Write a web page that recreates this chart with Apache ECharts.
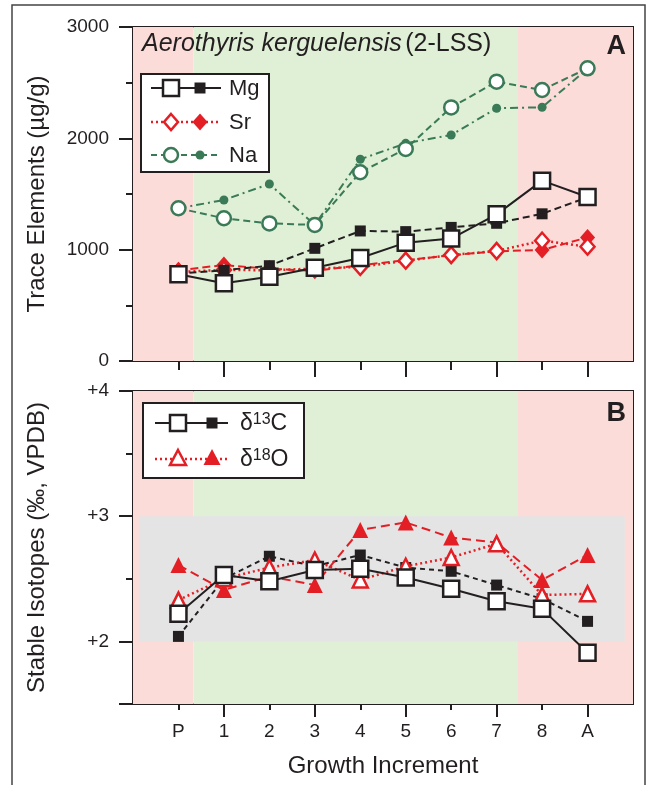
<!DOCTYPE html>
<html>

<head>
    <meta charset="utf-8">
    <script src="https://cdn.jsdelivr.net/npm/echarts@6.0.0/dist/echarts.min.js"></script>
    <style>
        html, body { margin: 0; padding: 0; background: #fff; }
    </style>
</head>

<body>
    <div id="main" style="width: 649px;height:785px;"></div>
    <script type="text/javascript">
        // growth increments (P = protegulum side, A = anterior margin)
        var increments = ['P', '1', '2', '3', '4', '5', '6', '7', '8', 'A'];

        // panel A, trace elements in µg/g (open = one profile, filled = the other)
        var mgOpen = [779, 698, 757, 838, 925, 1063, 1100, 1317, 1620, 1473];
        var mgFilled = [785, 815, 856, 1012, 1168, 1162, 1200, 1237, 1322, 1470];
        var srOpen = [800, 818, 815, 830, 845, 901, 952, 988, 1081, 1027];
        var srFilled = [815, 862, 828, 810, 860, 905, 950, 985, 997, 1110];
        var naOpen = [1372, 1282, 1236, 1222, 1695, 1905, 2278, 2509, 2434, 2629];
        var naFilled = [1372, 1446, 1590, 1222, 1812, 1955, 2030, 2270, 2279, 2625];

        // panel B, stable isotopes in ‰ VPDB
        var c13Open = [2.22, 2.53, 2.48, 2.57, 2.58, 2.51, 2.42, 2.32, 2.26, 1.91];
        var c13Filled = [2.04, 2.50, 2.68, 2.60, 2.69, 2.59, 2.56, 2.45, 2.34, 2.16];
        var o18Open = [2.33, 2.50, 2.59, 2.65, 2.49, 2.60, 2.67, 2.78, 2.37, 2.38];
        var o18Filled = [2.61, 2.41, 2.52, 2.45, 2.89, 2.95, 2.83, 2.79, 2.49, 2.69];

        // growth phases along the x axis (increment index) and the grey band
        var phaseBounds = [-1, 0.33, 7.47, 10];
        var bandX = [-0.87, 9.82];
        var bandY = [2, 3];

        var isoLabels = [2, 3, 4];

        var BLACK = '#231f20', RED = '#e31e24', GREEN = '#3b7a57';
        var PINK = '#fbdcd9', LGREEN = '#dff0d6', GREY = '#e4e4e4';
        var FONT = 'Liberation Sans, Arial, Helvetica, sans-serif';

        var chart = echarts.init(document.getElementById('main'));

        function pts(arr) {
            return arr.map(function (v, i) { return [i, v]; });
        }

        function line(name, arr, grid, symbol, size, open, color, dash, lw, z) {
            return {
                name: name,
                type: 'line',
                xAxisIndex: grid * 2,
                yAxisIndex: grid,
                data: pts(arr),
                symbol: symbol,
                symbolSize: size,
                showAllSymbol: true,
                z: z,
                lineStyle: { color: color, width: lw, type: dash },
                itemStyle: open
                    ? { color: '#fff', borderColor: color, borderWidth: 2.5 }
                    : { color: color, borderColor: color, borderWidth: 0 },
                emphasis: { disabled: true }
            };
        }

        function phaseAreas(yMin, yMax) {
            var cols = [PINK, LGREEN, PINK];
            var out = [];
            for (var i = 0; i < phaseBounds.length - 1; i++) {
                out.push([
                    { xAxis: phaseBounds[i], yAxis: yMin, itemStyle: { color: cols[i] } },
                    { xAxis: phaseBounds[i + 1], yAxis: yMax }
                ]);
            }
            return out;
        }

        var tickStyle = { color: BLACK, width: 2 };
        function axisLn() {
            return { show: true, onZero: false, lineStyle: { color: BLACK, width: 2 } };
        }
        var oddIdx = [1, 3, 5, 7, 9];
        var evenIdx = [0, 2, 4, 6, 8];

        function xAx(grid, custom, len, labels) {
            return {
                type: 'value', gridIndex: grid, min: -1, max: 10, position: 'bottom',
                axisLine: axisLn(),
                splitLine: { show: false },
                axisTick: { show: true, inside: false, customValues: custom, length: len, lineStyle: tickStyle },
                axisLabel: labels ? {
                    show: true, customValues: [0, 1, 2, 3, 4, 5, 6, 7, 8, 9],
                    formatter: function (v) { return increments[Math.round(v)]; },
                    color: BLACK, fontSize: 19, fontFamily: FONT, margin: 18
                } : { show: false }
            };
        }

        var xBottom = xAx(1, oddIdx, 13, true);
        xBottom.name = 'Growth Increment';
        xBottom.nameLocation = 'middle';
        xBottom.nameGap = 50;
        xBottom.nameTextStyle = { fontSize: 24, color: BLACK, fontFamily: FONT };

        chart.setOption({
            animation: false,
            backgroundColor: '#fff',
            grid: [
                { left: 133, top: 27, width: 500, height: 334, show: true, borderColor: BLACK, borderWidth: 2, backgroundColor: 'transparent' },
                { left: 133, top: 391, width: 500, height: 313, show: true, borderColor: BLACK, borderWidth: 2, backgroundColor: 'transparent' }
            ],
            xAxis: [
                xAx(0, oddIdx, 16, false),
                xAx(0, evenIdx, 9, false),
                xBottom,
                xAx(1, evenIdx, 6, false)
            ],
            yAxis: [
                {
                    type: 'value', gridIndex: 0, min: 0, max: 3000, interval: 1000, position: 'left',
                    name: 'Trace Elements (µg/g)', nameLocation: 'middle', nameGap: 84,
                    nameTextStyle: { fontSize: 24, color: BLACK, fontFamily: FONT },
                    axisLine: axisLn(),
                    splitLine: { show: false },
                    axisTick: { show: true, inside: false, length: 14, lineStyle: tickStyle },
                    minorTick: { show: true, splitNumber: 2, length: 7, lineStyle: tickStyle },
                    minorSplitLine: { show: false },
                    axisLabel: {
                        color: BLACK, fontSize: 19, fontFamily: FONT, margin: 24,
                        formatter: function (v) { return String(v); }
                    }
                },
                {
                    type: 'value', gridIndex: 1, min: 1.5, max: 4, position: 'left',
                    name: 'Stable Isotopes (‰, VPDB)', nameLocation: 'middle', nameGap: 84,
                    nameTextStyle: { fontSize: 24, color: BLACK, fontFamily: FONT },
                    axisLine: axisLn(),
                    splitLine: { show: false },
                    axisTick: { show: true, inside: false, customValues: [1.5].concat(isoLabels), length: 14, lineStyle: tickStyle },
                    axisLabel: {
                        customValues: isoLabels, color: BLACK, fontSize: 19, fontFamily: FONT, margin: 24,
                        formatter: function (v) { return '+' + v; }
                    }
                },
                {
                    type: 'value', gridIndex: 1, min: 1.5, max: 4, position: 'left',
                    axisLine: axisLn(),
                    splitLine: { show: false },
                    axisTick: { show: true, inside: false, customValues: [2.5, 3.5], length: 7, lineStyle: tickStyle },
                    axisLabel: { show: false }
                }
            ],
            series: [
                {
                    type: 'line', xAxisIndex: 0, yAxisIndex: 0, data: [], z: -2, silent: true,
                    markArea: { silent: true, data: phaseAreas(0, 3000) }
                },
                {
                    type: 'line', xAxisIndex: 2, yAxisIndex: 1, data: [], z: -2, silent: true,
                    markArea: { silent: true, data: phaseAreas(1.5, 4) }
                },
                {
                    type: 'line', xAxisIndex: 2, yAxisIndex: 1, data: [], z: -1, silent: true,
                    markArea: {
                        silent: true,
                        data: [[{ xAxis: bandX[0], yAxis: bandY[0], itemStyle: { color: GREY } }, { xAxis: bandX[1], yAxis: bandY[1] }]]
                    }
                },
                line('Na filled', naFilled, 0, 'circle', 9, false, GREEN, [8, 4, 2, 4], 2, 2),
                line('Na open', naOpen, 0, 'circle', 14, true, GREEN, [7, 4], 2, 3),
                line('Sr filled', srFilled, 0, 'diamond', [15, 17], false, RED, [8, 4], 2, 4),
                line('Sr open', srOpen, 0, 'diamond', [14, 16], true, RED, [2, 3], 2.5, 5),
                line('Mg filled', mgFilled, 0, 'rect', 11, false, BLACK, [7, 4], 2, 6),
                line('Mg open', mgOpen, 0, 'rect', 16, true, BLACK, 'solid', 2, 7),

                line('C13 filled', c13Filled, 1, 'rect', 11, false, BLACK, [5, 4], 2, 2),
                line('O18 filled', o18Filled, 1, 'triangle', 16, false, RED, [9, 5], 2, 3),
                line('O18 open', o18Open, 1, 'triangle', 15, true, RED, [2, 3], 2.5, 4),
                line('C13 open', c13Open, 1, 'rect', 16, true, BLACK, 'solid', 2, 5)
            ],
            graphic: [
                // outer frame
                { type: 'rect', shape: { x: 12, y: 5, width: 633, height: 820 }, style: { fill: 'none', stroke: '#444', lineWidth: 1.5 }, silent: true },
                // title and panel letters
                {
                    type: 'text', x: 142, y: 44, z: 10,
                    style: {
                        text: '{i|Aerothyris kerguelensis} {n|(2-LSS)}',
                        verticalAlign: 'middle',
                        rich: {
                            i: { fontSize: 25, fontStyle: 'italic', fill: BLACK, fontFamily: FONT },
                            n: { fontSize: 25, fill: BLACK, fontFamily: FONT }
                        }
                    }
                },
                { type: 'text', x: 626, y: 47, z: 10, style: { text: 'A', fontSize: 27, fontWeight: 'bold', fill: BLACK, fontFamily: FONT, align: 'right', verticalAlign: 'middle' } },
                { type: 'text', x: 626, y: 414, z: 10, style: { text: 'B', fontSize: 27, fontWeight: 'bold', fill: BLACK, fontFamily: FONT, align: 'right', verticalAlign: 'middle' } },

                // legend panel A
                { type: 'rect', z: 10, shape: { x: 141, y: 74, width: 128, height: 98 }, style: { fill: '#fff', stroke: BLACK, lineWidth: 2 } },
                { type: 'line', z: 11, shape: { x1: 151, y1: 88, x2: 221, y2: 88 }, style: { stroke: BLACK, lineWidth: 2 } },
                { type: 'rect', z: 12, shape: { x: 163, y: 80, width: 16, height: 16 }, style: { fill: '#fff', stroke: BLACK, lineWidth: 2.5 } },
                { type: 'rect', z: 12, shape: { x: 194.5, y: 82.5, width: 11, height: 11 }, style: { fill: BLACK } },
                { type: 'text', z: 12, x: 229, y: 89, style: { text: 'Mg', fontSize: 22, fill: BLACK, fontFamily: FONT, verticalAlign: 'middle' } },

                { type: 'line', z: 11, shape: { x1: 151, y1: 122, x2: 221, y2: 122 }, style: { stroke: RED, lineWidth: 2.5, lineDash: [2, 3] } },
                { type: 'polygon', z: 12, shape: { points: [[171, 114], [178, 122], [171, 130], [164, 122]] }, style: { fill: '#fff', stroke: RED, lineWidth: 2.5 } },
                { type: 'polygon', z: 12, shape: { points: [[200, 113.5], [207.5, 122], [200, 130.5], [192.5, 122]] }, style: { fill: RED } },
                { type: 'text', z: 12, x: 229, y: 123, style: { text: 'Sr', fontSize: 22, fill: BLACK, fontFamily: FONT, verticalAlign: 'middle' } },

                { type: 'line', z: 11, shape: { x1: 151, y1: 155, x2: 221, y2: 155 }, style: { stroke: GREEN, lineWidth: 2, lineDash: [6, 4] } },
                { type: 'circle', z: 12, shape: { cx: 171, cy: 155, r: 7 }, style: { fill: '#fff', stroke: GREEN, lineWidth: 2.5 } },
                { type: 'circle', z: 12, shape: { cx: 200, cy: 155, r: 4.5 }, style: { fill: GREEN } },
                { type: 'text', z: 12, x: 229, y: 156, style: { text: 'Na', fontSize: 22, fill: BLACK, fontFamily: FONT, verticalAlign: 'middle' } },

                // legend panel B
                { type: 'rect', z: 10, shape: { x: 143, y: 403, width: 161, height: 75 }, style: { fill: '#fff', stroke: BLACK, lineWidth: 2 } },
                { type: 'line', z: 11, shape: { x1: 155, y1: 423, x2: 228, y2: 423 }, style: { stroke: BLACK, lineWidth: 2 } },
                { type: 'rect', z: 12, shape: { x: 170, y: 415, width: 16, height: 16 }, style: { fill: '#fff', stroke: BLACK, lineWidth: 2.5 } },
                { type: 'rect', z: 12, shape: { x: 206.5, y: 417.5, width: 11, height: 11 }, style: { fill: BLACK } },
                {
                    type: 'text', z: 12, x: 240, y: 424,
                    style: {
                        text: '{d|δ}{s|13}{d|C}', verticalAlign: 'middle',
                        rich: {
                            d: { fontSize: 23, lineHeight: 24, fill: BLACK, fontFamily: FONT },
                            s: { fontSize: 16, lineHeight: 16, verticalAlign: 'top', fill: BLACK, fontFamily: FONT }
                        }
                    }
                },
                { type: 'line', z: 11, shape: { x1: 155, y1: 459, x2: 228, y2: 459 }, style: { stroke: RED, lineWidth: 2.5, lineDash: [2, 3] } },
                { type: 'polygon', z: 12, shape: { points: [[178, 450], [186, 465], [170, 465]] }, style: { fill: '#fff', stroke: RED, lineWidth: 2.5 } },
                { type: 'polygon', z: 12, shape: { points: [[212, 449], [220.5, 465], [203.5, 465]] }, style: { fill: RED } },
                {
                    type: 'text', z: 12, x: 240, y: 460,
                    style: {
                        text: '{d|δ}{s|18}{d|O}', verticalAlign: 'middle',
                        rich: {
                            d: { fontSize: 23, lineHeight: 24, fill: BLACK, fontFamily: FONT },
                            s: { fontSize: 16, lineHeight: 16, verticalAlign: 'top', fill: BLACK, fontFamily: FONT }
                        }
                    }
                }
            ]
        });
    </script>
</body>

</html>
